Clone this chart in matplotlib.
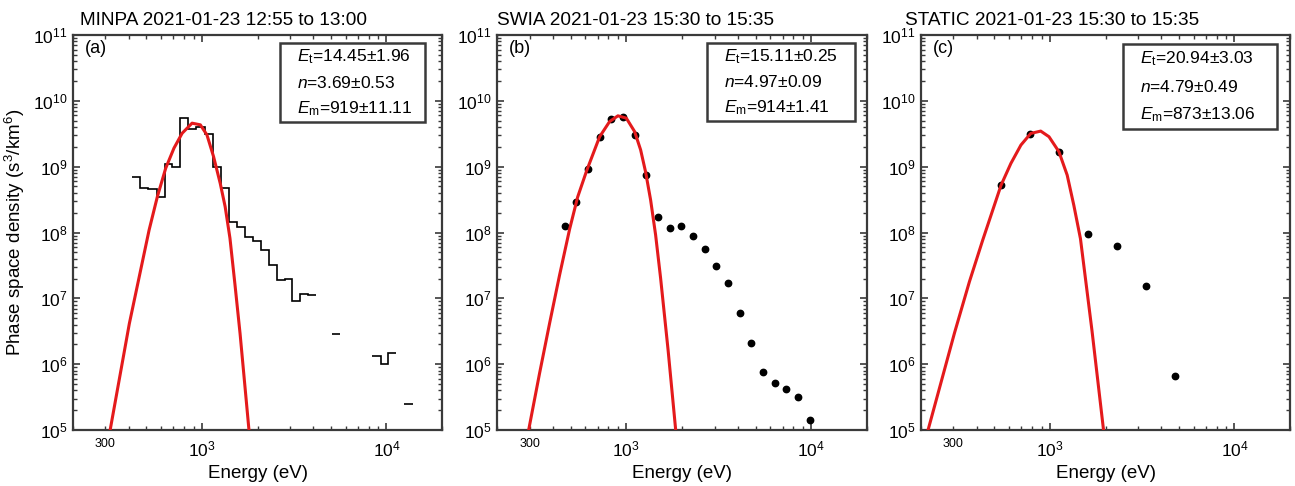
import numpy as np
import matplotlib
matplotlib.use("Agg")
import matplotlib.pyplot as plt
from matplotlib.ticker import LogLocator, FixedLocator, FuncFormatter, NullFormatter

plt.rcParams["font.family"] = ["Liberation Sans", "DejaVu Sans"]
plt.rcParams["mathtext.fontset"] = "custom"
plt.rcParams["mathtext.rm"] = "Liberation Sans"
plt.rcParams["mathtext.it"] = "Liberation Sans:italic"

# ---- (a) MINPA: step spectrum (bin edges in eV, values per bin, NaN = no data)
minpa_edges = [420, 463, 513, 569, 630, 690, 765, 841, 933, 1034, 1141, 1265,
               1404, 1543, 1712, 1897, 2101, 2304, 2554, 2808, 3086, 3407,
               3779, 4152, 4580, 5062, 5617, 6200, 6850, 7580, 8380, 9284,
               10212, 11277, 12497, 13868]
minpa_psd = [7.05e8, 4.79e8, 4.57e8, 3.49e8, 1.09e9, 1.0e9, 5.56e9, 3.71e9,
             4.06e9, 3.11e9, 1.0e9, 4.79e8, 1.45e8, 1.20e8, 8.42e7, 7.32e7,
             5.40e7, 3.19e7, 1.93e7, 1.99e7, 9.04e6, 1.18e7, 1.11e7, np.nan,
             np.nan, 2.91e6, np.nan, np.nan, np.nan, np.nan, 1.31e6, 1.02e6,
             1.50e6, np.nan, 2.51e5]
minpa_fit_e = [308, 318, 404, 517, 573, 636, 705, 781, 884, 980, 1064, 1156,
               1256, 1336, 1418, 1509, 1609, 1798, 1830]
minpa_fit_f = [6.0e4, 1.0e5, 4.13e6, 1.09e8, 3.49e8, 9.46e8, 1.91e9, 3.22e9,
               4.58e9, 4.32e9, 3.04e9, 1.42e9, 5.58e8, 2.46e8, 8.22e7, 1.64e7,
               2.91e6, 1.0e5, 6.0e4]

# ---- (b) SWIA: points
swia_e = [464, 532, 620, 717, 830, 959, 1109, 1282, 1482, 1714, 1983, 2291,
          2650, 3065, 3542, 4098, 4740, 5475, 6333, 7328, 8467, 9791]
swia_psd = [1.27e8, 2.88e8, 9.27e8, 2.81e9, 5.32e9, 5.77e9, 3.04e9, 7.50e8,
            1.71e8, 1.16e8, 1.27e8, 8.87e7, 5.57e7, 3.10e7, 1.69e7, 6.07e6,
            2.12e6, 7.54e5, 5.13e5, 4.15e5, 3.21e5, 1.42e5]
swia_fit_e = [290, 297, 340, 385, 436, 494, 546, 610, 717, 812, 901, 1000,
              1109, 1195, 1271, 1353, 1440, 1532, 1682, 1847, 1880]
swia_fit_f = [6.0e4, 1.02e5, 7.35e5, 4.19e6, 2.27e7, 1.13e8, 3.47e8, 8.63e8,
              2.84e9, 4.84e9, 5.92e9, 5.46e9, 3.41e9, 1.80e9, 8.34e8, 3.13e8,
              9.20e7, 2.04e7, 1.64e6, 1.03e5, 6.0e4]

# ---- (c) STATIC: points
static_e = [543, 778, 1118, 1608, 2304, 3301, 4753]
static_psd = [5.22e8, 3.09e9, 1.65e9, 9.62e7, 6.25e7, 1.54e7, 6.56e5]
static_fit_e = [214, 218, 304, 366, 432, 543, 614, 696, 787, 891, 988, 1118,
                1240, 1347, 1463, 1690, 1953, 1980]
static_fit_f = [6.0e4, 9.8e4, 3.0e6, 1.79e7, 7.66e7, 5.22e8, 1.12e9, 2.13e9,
                3.20e9, 3.47e9, 2.85e9, 1.69e9, 7.43e8, 2.59e8, 8.07e7, 3.21e6,
                9.8e4, 6.0e4]

titles = ["MINPA 2021-01-23 12:55 to 13:00",
          "SWIA 2021-01-23 15:30 to 15:35",
          "STATIC 2021-01-23 15:30 to 15:35"]
panel_tags = ["(a)", "(b)", "(c)"]
fit_text = [
    [r"$\mathit{E}_{\rm t}$=14.45±1.96", r"$\mathit{n}$=3.69±0.53", r"$\mathit{E}_{\rm m}$=919±11.11"],
    [r"$\mathit{E}_{\rm t}$=15.11±0.25", r"$\mathit{n}$=4.97±0.09", r"$\mathit{E}_{\rm m}$=914±1.41"],
    [r"$\mathit{E}_{\rm t}$=20.94±3.03", r"$\mathit{n}$=4.79±0.49", r"$\mathit{E}_{\rm m}$=873±13.06"],
]
x_minor_ticks = [200, 300, 400, 500, 600, 700, 800, 900,
                 2000, 3000, 4000, 5000, 6000, 7000, 8000, 9000, 20000]

RED = "#e41a1c"
SPINE = "#3a3a3a"

W, H = 1295, 486
fig = plt.figure(figsize=(W / 100, H / 100), dpi=100)

# axes boxes in pixels (left, right), shared top/bottom
boxes = [(73, 442), (497, 867), (921, 1290)]
top_px, bot_px = 35, 430
title_dx = [0.019, 0.0, -0.043]
box_pos = [(280, 425, 43, 122), (707, 855, 43, 121), (1123, 1277, 44, 129)]

axes = []
for i, (l, r) in enumerate(boxes):
    ax = fig.add_axes([l / W, 1 - bot_px / H, (r - l) / W, (bot_px - top_px) / H])
    axes.append(ax)
    ax.set_xscale("log")
    ax.set_yscale("log")
    ax.set_xlim(200, 20000)
    ax.set_ylim(1e5, 1e11)

    for s in ax.spines.values():
        s.set_color(SPINE)
        s.set_linewidth(1.6)
    ax.tick_params(which="both", direction="in", top=True, right=True,
                   color=SPINE, labelsize=12.5, pad=4)
    ax.tick_params(which="major", length=5, width=1.2)
    ax.tick_params(which="minor", length=3, width=1.0)
    ax.tick_params(axis="x", which="major", pad=7)
    ax.tick_params(axis="x", which="minor", labelsize=9, pad=6)

    ax.xaxis.set_major_locator(FixedLocator([1e3, 1e4]))
    ax.xaxis.set_minor_locator(FixedLocator(x_minor_ticks))
    ax.xaxis.set_minor_formatter(FuncFormatter(lambda v, p: "300" if abs(v - 300) < 1 else ""))
    ax.yaxis.set_major_locator(LogLocator(base=10, numticks=20))
    ax.yaxis.set_minor_locator(LogLocator(base=10, subs=np.arange(2, 10), numticks=20))
    ax.yaxis.set_minor_formatter(NullFormatter())

    ax.text(title_dx[i], 1.016, titles[i], transform=ax.transAxes,
            ha="left", va="bottom", fontsize=13.7)
    ax.text(0.033, 0.965, panel_tags[i], transform=ax.transAxes,
            ha="left", va="center", fontsize=13)
    ax.set_xlabel("Energy (eV)", fontsize=13.5, labelpad=4)

    # parameter box
    bl, br, bt, bb = box_pos[i]
    bx0 = (bl - l) / (r - l)
    bw = (br - bl) / (r - l)
    btop = 1 - (bt - top_px) / (bot_px - top_px)
    bh = (bb - bt) / (bot_px - top_px)
    rect = plt.Rectangle((bx0, btop - bh), bw, bh, transform=ax.transAxes,
                         fill=False, edgecolor=SPINE, linewidth=1.8, zorder=5)
    ax.add_patch(rect)
    for j, line in enumerate(fit_text[i]):
        ax.text(bx0 + 0.045, btop - bh * (0.17 + 0.33 * j), line,
                transform=ax.transAxes, ha="left", va="center", fontsize=12.5, zorder=6)

axes[0].set_ylabel(r"Phase space density (s$^3$/km$^6$)", fontsize=13.5)
axes[0].yaxis.set_label_coords(-0.125, 0.5)

# (a)
axes[0].stairs(minpa_psd, minpa_edges, baseline=None, color="black", linewidth=1.2, zorder=3)
axes[0].plot(minpa_fit_e, minpa_fit_f, color=RED, linewidth=2.2, zorder=4)

# (b)
axes[1].plot(swia_e, swia_psd, "o", color="black", markersize=4.6, zorder=3)
axes[1].plot(swia_fit_e, swia_fit_f, color=RED, linewidth=2.2, zorder=4)

# (c)
axes[2].plot(static_e, static_psd, "o", color="black", markersize=4.6, zorder=3)
axes[2].plot(static_fit_e, static_fit_f, color=RED, linewidth=2.2, zorder=4)

fig.savefig("out.png", dpi=100)
